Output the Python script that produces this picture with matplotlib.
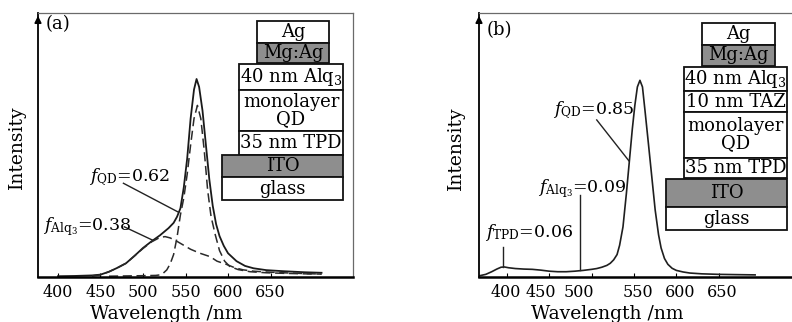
import matplotlib
matplotlib.use("Agg")
import matplotlib.pyplot as plt
from matplotlib.patches import Rectangle

plt.rcParams['font.family'] = 'DejaVu Serif'
plt.rcParams['mathtext.fontset'] = 'dejavuserif'

# ---- datos (a): espectro total y componentes QD / Alq3 ----
wl_a = [400, 420, 440, 450, 460, 470, 480, 490, 500, 510, 520, 530, 536, 540,
        544, 548, 552, 556, 560, 563, 566, 570, 574, 578, 582, 586, 590, 595,
        600, 610, 620, 630, 645, 665, 690, 710]
total_a = [0.003, 0.004, 0.006, 0.009, 0.02, 0.035, 0.052, 0.08, 0.11, 0.135,
           0.158, 0.185, 0.205, 0.228, 0.26, 0.34, 0.45, 0.6, 0.71, 0.75, 0.72,
           0.63, 0.5, 0.37, 0.27, 0.2, 0.155, 0.118, 0.09, 0.06, 0.042, 0.033,
           0.026, 0.022, 0.018, 0.016]

wl_qd = [460, 480, 500, 515, 520, 524, 528, 532, 536, 540, 544, 548, 552, 556,
         560, 564, 568, 572, 576, 580, 585, 590, 596, 602, 612, 626, 645, 665,
         690, 710]
qd_a = [0.003, 0.004, 0.005, 0.006, 0.008, 0.015, 0.027, 0.05, 0.085, 0.15,
        0.235, 0.3, 0.39, 0.5, 0.6, 0.65, 0.6, 0.48, 0.33, 0.23, 0.16, 0.1,
        0.06, 0.04, 0.028, 0.02, 0.016, 0.014, 0.012, 0.011]

wl_alq = [440, 450, 460, 470, 480, 490, 500, 510, 520, 526, 532, 540, 548, 556,
          567, 579, 587, 598, 608, 618, 630, 645, 665, 690, 710]
alq_a = [0.004, 0.008, 0.02, 0.035, 0.052, 0.08, 0.108, 0.133, 0.15, 0.153,
         0.148, 0.135, 0.12, 0.105, 0.09, 0.077, 0.06, 0.048, 0.035, 0.027,
         0.022, 0.019, 0.016, 0.013, 0.011]

# ---- datos (b): espectro total ----
wl_b = [368, 375, 382, 388, 393, 397, 402, 410, 420, 430, 440, 450, 460, 470,
        480, 490, 500, 506, 512, 518, 522, 526, 530, 533, 537, 541, 545, 548,
        551, 554, 557, 560, 563, 567, 571, 575, 579, 582, 586, 590, 595, 600,
        608, 616, 630, 650, 670, 693]
total_b = [0.005, 0.01, 0.02, 0.03, 0.037, 0.038, 0.035, 0.032, 0.03, 0.029,
           0.026, 0.022, 0.02, 0.02, 0.022, 0.025, 0.029, 0.032, 0.037, 0.044,
           0.052, 0.065, 0.085, 0.12, 0.19, 0.316, 0.455, 0.56, 0.65, 0.72,
           0.745, 0.72, 0.63, 0.506, 0.38, 0.254, 0.16, 0.11, 0.07, 0.048,
           0.033, 0.025, 0.019, 0.015, 0.012, 0.01, 0.009, 0.008]

ticks_nm = [400, 450, 500, 550, 600, 650]
tick_labels = ['400', '450', '500', '550', '600', '650']
# en (b) las etiquetas no caen exactamente sobre las marcas
label_pos_b = [399, 440, 485, 555, 605, 654]

capas_a = ['Ag', 'Mg:Ag', '40 nm Alq$_3$', 'monolayer\nQD', '35 nm TPD',
           'ITO', 'glass']
capas_b = ['Ag', 'Mg:Ag', '40 nm Alq$_3$', '10 nm TAZ', 'monolayer\nQD',
           '35 nm TPD', 'ITO', 'glass']
grises_a = [False, True, False, False, False, True, False]
grises_b = [False, True, False, False, False, False, True, False]

W, H = 792, 322
fig = plt.figure(figsize=(W / 100, H / 100), dpi=100)


def px_axes(x0, x1, y0, y1):
    return fig.add_axes([x0 / W, 1 - y1 / H, (x1 - x0) / W, (y1 - y0) / H])


ax_a = px_axes(38, 353, 13, 277)
ax_b = px_axes(479, 800, 13, 277)

TICK_FS = 11.5


def estilo(ax, xlim):
    ax.set_xlim(*xlim)
    ax.set_ylim(0, 1)
    ax.set_yticks([])
    for s in ['top', 'right']:
        ax.spines[s].set_color('#6a6a6a')
        ax.spines[s].set_linewidth(0.9)
    ax.spines['bottom'].set_linewidth(1.8)
    ax.spines['left'].set_linewidth(1.3)
    ax.tick_params(axis='x', direction='in', length=3, width=0.8,
                   labelsize=TICK_FS, pad=5)
    # flecha del eje de intensidad
    ax.annotate('', xy=(0, 1.0), xytext=(0, 0.95), xycoords='axes fraction',
                arrowprops=dict(arrowstyle='-|>', color='k', lw=1.2,
                                mutation_scale=10))


estilo(ax_a, (376.5, 747))
estilo(ax_b, (367, 746))

ax_a.set_xticks(ticks_nm, tick_labels)
ax_b.set_xticks(ticks_nm, [])
ax_b.set_xticks(label_pos_b, tick_labels, minor=True)
ax_b.tick_params(axis='x', which='minor', length=0, labelsize=TICK_FS, pad=5)

# curvas
ax_a.plot(wl_a, total_a, color='#1a1a1a', lw=1.3)
ax_a.plot(wl_qd, qd_a, color='#2a2a2a', lw=1.1, linestyle=(0, (6, 3)))
ax_a.plot(wl_alq, alq_a, color='#2a2a2a', lw=1.1, linestyle=(0, (6, 3)))
ax_b.plot(wl_b, total_b, color='#1f1f1f', lw=1.2)

# anotaciones (a)
fs = 12.5
ax_a.text(437, 0.361, r'$f_{\rm QD}$=0.62', fontsize=fs, va='baseline')
ax_a.plot([477, 542], [0.355, 0.245], color='#222', lw=1.0)
ax_a.text(382, 0.178, r'$f_{\rm Alq_3}$=0.38', fontsize=fs, va='baseline')
ax_a.plot([478, 511], [0.19, 0.14], color='#222', lw=1.0)
ax_a.text(0.063, 0.958, '(a)', transform=ax_a.transAxes, fontsize=13,
          ha='center', va='center')

# anotaciones (b)
ax_b.text(454, 0.614, r'$f_{\rm QD}$=0.85', fontsize=fs, va='baseline')
ax_b.plot([506, 544], [0.595, 0.44], color='#222', lw=1.0)
ax_b.text(437, 0.322, r'$f_{\rm Alq_3}$=0.09', fontsize=fs, va='baseline')
ax_b.plot([486, 486], [0.31, 0.026], color='#222', lw=1.0)
ax_b.text(374, 0.152, r'$f_{\rm TPD}$=0.06', fontsize=fs, va='baseline')
ax_b.plot([395, 395], [0.115, 0.038], color='#222', lw=1.0)
ax_b.text(0.065, 0.936, '(b)', transform=ax_b.transAxes, fontsize=13,
          ha='center', va='center')

# rótulos de ejes
for ax, cx in [(ax_a, 0.408), (ax_b, 0.40)]:
    ax.set_xlabel('Wavelength /nm', fontsize=13.5)
    ax.xaxis.set_label_coords(cx, -0.105)
fig.text(17 / W, 1 - 147 / H, 'Intensity', rotation=90, fontsize=13.5,
         ha='center', va='center')
fig.text(456 / W, 1 - 148 / H, 'Intensity', rotation=90, fontsize=13.5,
         ha='center', va='center')

# estructura de capas del dispositivo (x0, x1, y0, y1 en píxeles)
cajas_a = [(257, 329, 21, 43), (257, 329, 43, 63), (239, 343, 64, 90),
           (239, 343, 90, 131), (239, 343, 131, 155), (222, 343, 155, 177),
           (222, 343, 177, 200)]
cajas_b = [(702, 775, 23, 45), (702, 775, 45, 66), (684, 787, 67, 91),
           (684, 787, 91, 112), (684, 787, 112, 158), (684, 787, 158, 178),
           (666, 787, 179, 207), (666, 787, 207, 230)]


def dibujar_capas(capas, grises, cajas):
    for nombre, gris, (x0, x1, y0, y1) in zip(capas, grises, cajas):
        rect = Rectangle((x0 / W, 1 - y1 / H), (x1 - x0) / W, (y1 - y0) / H,
                         transform=fig.transFigure,
                         facecolor='#8e8e8e' if gris else 'white',
                         edgecolor='#111', lw=1.3, zorder=5)
        fig.add_artist(rect)
        fig.text((x0 + x1) / 2 / W, 1 - (y0 + y1) / 2 / H, nombre,
                 fontsize=13, ha='center', va='center', zorder=6,
                 linespacing=0.95)


dibujar_capas(capas_a, grises_a, cajas_a)
dibujar_capas(capas_b, grises_b, cajas_b)

fig.savefig('out.png', dpi=100)
